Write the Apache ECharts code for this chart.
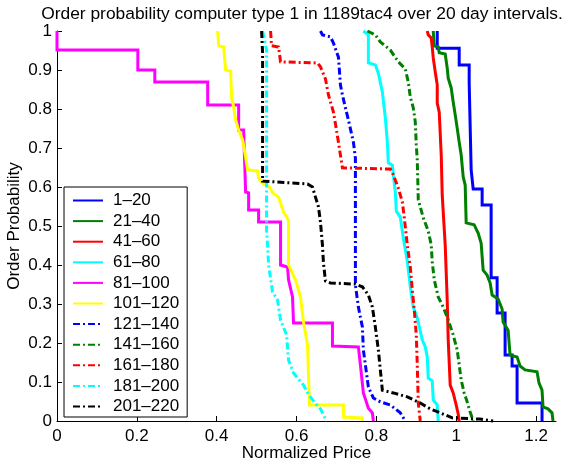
<!DOCTYPE html>
<html>
<head>
<meta charset="utf-8">
<script src="https://cdn.jsdelivr.net/npm/echarts@6/dist/echarts.min.js"></script>
<style>
html,body{margin:0;padding:0;background:#fff;}
#chart{width:573px;height:468px;}
</style>
</head>
<body>
<div id="chart"></div>
<script>
const titleText = 'Order probability computer type 1 in 1189tac4 over 20 day intervals.';
const xName = 'Normalized Price';
const yName = 'Order Probability';
const seriesNames = ['1\u201320','21\u201340','41\u201360','61\u201380','81\u2013100','101\u2013120','121\u2013140','141\u2013160','161\u2013180','181\u2013200','201\u2013220'];
const seriesColors = ['#0000ff','#008000','#ff0000','#00ffff','#ff00ff','#ffff00','#0000ff','#008000','#ff0000','#00ffff','#000000'];
const seriesDashed = [false,false,false,false,false,false,true,true,true,true,true];

const d1_20 = [[0.9525,1],[0.9525,0.956],[1.0075,0.956],[1.0075,0.913],[1.0325,0.913],[1.0325,0.867],[1.0375,0.867],[1.0375,0.644],[1.0425,0.644],[1.0425,0.595],[1.065,0.595],[1.065,0.554],[1.0875,0.554],[1.0875,0.367],[1.1025,0.367],[1.1025,0.277],[1.1225,0.277],[1.1225,0.169],[1.14,0.169],[1.14,0.141],[1.1525,0.141],[1.1525,0.046],[1.215,0.046],[1.215,0]];
const d21_40 = [[0.9425,1],[0.945,0.962],[0.955,0.959],[0.9575,0.944],[0.9725,0.941],[0.9775,0.905],[0.98,0.879],[0.9875,0.854],[0.9925,0.818],[0.9975,0.785],[1.0025,0.751],[1.0075,0.715],[1.0125,0.682],[1.0175,0.626],[1.0225,0.605],[1.025,0.508],[1.045,0.503],[1.055,0.482],[1.0625,0.456],[1.0675,0.387],[1.0775,0.374],[1.085,0.354],[1.09,0.323],[1.105,0.313],[1.115,0.287],[1.1175,0.254],[1.13,0.233],[1.135,0.169],[1.1525,0.164],[1.16,0.141],[1.1725,0.131],[1.2025,0.126],[1.2075,0.097],[1.215,0.079],[1.2175,0.036],[1.23,0.031],[1.24,0.021],[1.2425,0]];
const d41_60 = [[0.9275,1],[0.93,0.99],[0.9375,0.982],[0.94,0.959],[0.9425,0.931],[0.9475,0.895],[0.9525,0.862],[0.9525,0.815],[0.9575,0.792],[0.9625,0.682],[0.965,0.579],[0.9725,0.451],[0.9775,0.31],[0.98,0.208],[0.985,0.092],[0.9925,0.072],[1.0,0.041],[1.005,0.018],[1.0075,0]];
const d61_80 = [[0.7675,1],[0.7725,0.995],[0.78,0.99],[0.78,0.918],[0.7975,0.913],[0.805,0.892],[0.815,0.844],[0.8225,0.777],[0.8275,0.715],[0.83,0.662],[0.84,0.656],[0.8425,0.631],[0.8475,0.587],[0.85,0.538],[0.86,0.523],[0.8675,0.469],[0.8775,0.41],[0.885,0.344],[0.8925,0.292],[0.9025,0.264],[0.915,0.208],[0.9225,0.19],[0.9275,0.164],[0.93,0.11],[0.94,0.103],[0.9425,0.054],[0.9525,0.041],[0.955,0]];
const d81_100 = [[0,1],[0,0.951],[0.2025,0.951],[0.2025,0.9],[0.245,0.9],[0.245,0.869],[0.3775,0.869],[0.3775,0.81],[0.455,0.81],[0.455,0.746],[0.4675,0.746],[0.4725,0.587],[0.48,0.585],[0.48,0.541],[0.505,0.541],[0.505,0.51],[0.56,0.51],[0.56,0.4],[0.5775,0.395],[0.58,0.362],[0.59,0.318],[0.5925,0.251],[0.69,0.251],[0.69,0.192],[0.755,0.19],[0.76,0.144],[0.7675,0.072],[0.78,0.033],[0.79,0.021],[0.7925,0]];
const d101_120 = [[0.4025,1],[0.405,0.962],[0.4175,0.959],[0.4225,0.9],[0.435,0.897],[0.4375,0.828],[0.4425,0.805],[0.4475,0.772],[0.455,0.746],[0.465,0.721],[0.4725,0.677],[0.4775,0.644],[0.5025,0.641],[0.505,0.623],[0.515,0.61],[0.5325,0.6],[0.54,0.585],[0.555,0.574],[0.56,0.559],[0.5675,0.536],[0.58,0.515],[0.58,0.4],[0.5975,0.362],[0.61,0.318],[0.6175,0.254],[0.6275,0.195],[0.63,0.118],[0.6325,0.041],[0.7175,0.041],[0.7175,0.01],[0.765,0.008],[0.765,0]];
const d121_140 = [[0.66,1],[0.665,0.99],[0.685,0.985],[0.6925,0.969],[0.705,0.933],[0.71,0.862],[0.715,0.836],[0.7225,0.803],[0.73,0.772],[0.7425,0.715],[0.7475,0.674],[0.7475,0.349],[0.755,0.292],[0.765,0.241],[0.7675,0.182],[0.7725,0.144],[0.78,0.087],[0.7925,0.059],[0.81,0.049],[0.835,0.041],[0.86,0.021],[0.8725,0]];
const d141_160 = [[0.7775,1],[0.7975,0.99],[0.81,0.972],[0.835,0.951],[0.855,0.921],[0.8725,0.903],[0.88,0.869],[0.885,0.831],[0.8925,0.803],[0.8975,0.767],[0.9,0.708],[0.9025,0.669],[0.905,0.567],[0.9175,0.521],[0.93,0.487],[0.9375,0.451],[0.94,0.408],[0.945,0.362],[0.955,0.318],[0.9675,0.292],[0.98,0.259],[0.9925,0.221],[1.0025,0.182],[1.0075,0.144],[1.0125,0.105],[1.02,0.072],[1.0275,0.049],[1.035,0.023],[1.0425,0]];
const d161_180 = [[0.535,1],[0.5375,0.962],[0.555,0.959],[0.56,0.921],[0.6525,0.918],[0.66,0.908],[0.6725,0.877],[0.68,0.836],[0.6925,0.792],[0.6975,0.762],[0.705,0.715],[0.71,0.682],[0.715,0.649],[0.835,0.646],[0.8425,0.631],[0.855,0.597],[0.865,0.562],[0.87,0.521],[0.8775,0.451],[0.885,0.395],[0.89,0.336],[0.895,0.285],[0.9,0.221],[0.9025,0.144],[0.905,0.046],[0.91,0]];
const d181_200 = [[0.515,1],[0.52,0.977],[0.525,0.951],[0.525,0.49],[0.5275,0.451],[0.53,0.4],[0.54,0.331],[0.5525,0.31],[0.56,0.259],[0.575,0.221],[0.58,0.156],[0.5925,0.123],[0.6175,0.092],[0.6275,0.072],[0.6425,0.051],[0.66,0.031],[0.675,0]];
const d201_220 = [[0.5125,1],[0.515,0.944],[0.515,0.615],[0.52,0.61],[0.6275,0.608],[0.64,0.6],[0.6475,0.574],[0.655,0.549],[0.66,0.51],[0.665,0.451],[0.6675,0.405],[0.6725,0.359],[0.685,0.354],[0.7475,0.351],[0.765,0.344],[0.78,0.323],[0.79,0.292],[0.7975,0.241],[0.805,0.182],[0.81,0.131],[0.815,0.079],[0.8425,0.072],[0.8775,0.062],[0.91,0.046],[0.935,0.031],[0.96,0.021],[0.99,0.008],[1.06,0.005],[1.0925,0]];
const seriesData = [d1_20,d21_40,d41_60,d61_80,d81_100,d101_120,d121_140,d141_160,d161_180,d181_200,d201_220];

const xMin = 0, xMax = 1.25, xStep = 0.2;
const yMin = 0, yMax = 1, yStep = 0.1;

const FONT = 'Liberation Sans, Arial, Helvetica, sans-serif';
const chart = echarts.init(document.getElementById('chart'), null, {renderer:'canvas'});

const series = seriesNames.map((name, i) => ({
  name: name,
  type: 'line',
  data: seriesData[i],
  symbol: 'none',
  showSymbol: false,
  animation: false,
  clip: false,
  lineStyle: {
    color: seriesColors[i],
    width: 3,
    type: seriesDashed[i] ? [7,3,2,3] : 'solid',
    cap: 'butt',
    join: 'miter'
  },
  itemStyle: {color: seriesColors[i]},
  emphasis: {disabled: true}
}));

chart.setOption({
  animation: false,
  backgroundColor: '#ffffff',
  title: {
    text: titleText,
    left: 297,
    top: 1,
    textAlign: 'center',
    textStyle: {fontFamily: FONT, fontSize: 17.4, fontWeight: 'normal', color: '#000'}
  },
  grid: {left: 57, right: 17, top: 31, bottom: 47, containLabel: false, outerBoundsMode: 'none'},
  xAxis: {
    type: 'value', min: xMin, max: xMax, interval: xStep,
    name: xName, nameLocation: 'middle', nameGap: 24, nameMoveOverlap: false,
    nameTextStyle: {fontFamily: FONT, fontSize: 17, color: '#000'},
    axisLine: {show: true, lineStyle: {color: '#000', width: 1}},
    axisTick: {show: true, inside: true, length: 5, lineStyle: {color: '#000'}},
    axisLabel: {fontFamily: FONT, fontSize: 17, color: '#000', margin: 7, showMaxLabel: false},
    splitLine: {show: false}
  },
  yAxis: {
    type: 'value', min: yMin, max: yMax, interval: yStep,
    name: yName, nameLocation: 'middle', nameGap: 34, nameRotate: 90, nameMoveOverlap: false,
    nameTextStyle: {fontFamily: FONT, fontSize: 17, color: '#000'},
    axisLine: {show: true, lineStyle: {color: '#000', width: 1}},
    axisTick: {show: true, inside: true, length: 5, lineStyle: {color: '#000'}},
    axisLabel: {fontFamily: FONT, fontSize: 17, color: '#000', margin: 5},
    splitLine: {show: false}
  },
  legend: {
    orient: 'vertical',
    left: 64, top: 187,
    padding: [5, 8, 2, 8],
    itemWidth: 30, itemHeight: 14, itemGap: 3.6,
    backgroundColor: '#fff',
    borderColor: '#000', borderWidth: 1, borderRadius: 0,
    itemStyle: {opacity: 0},
    textStyle: {fontFamily: FONT, fontSize: 17, color: '#000', padding: [0,0,0,5]},
    data: seriesNames
  },
  series: series
});
</script>
</body>
</html>
